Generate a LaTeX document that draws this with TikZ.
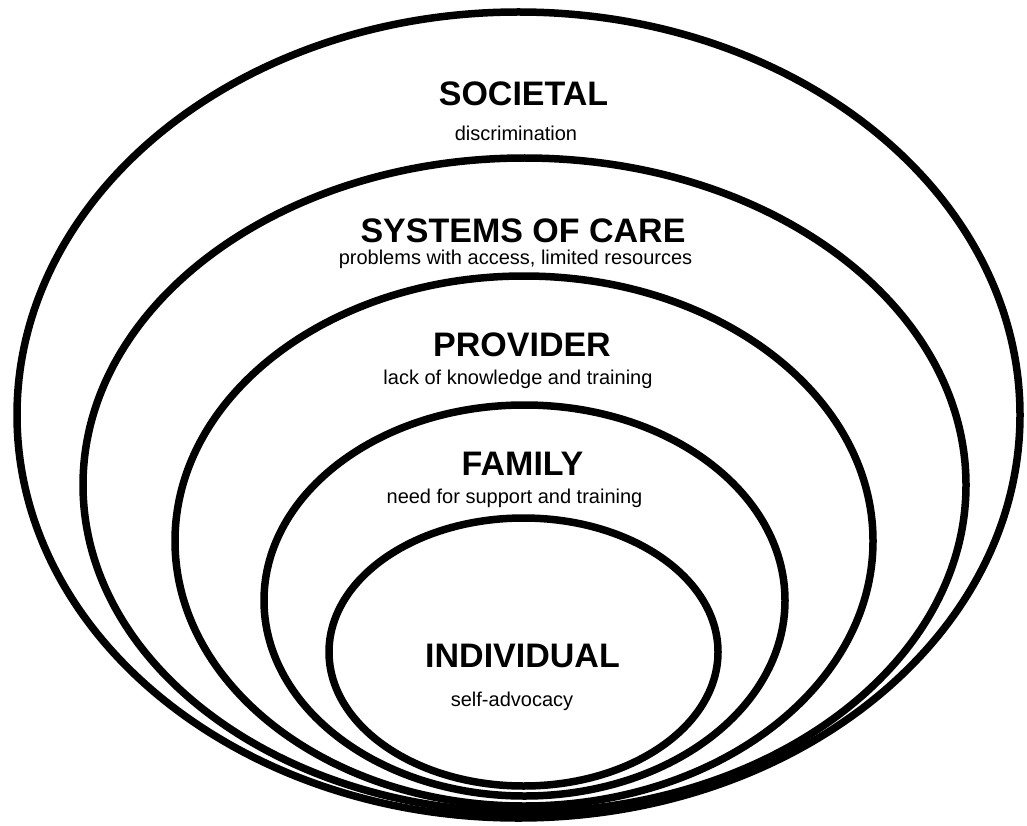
\documentclass[tikz,border=0pt]{standalone}
\usepackage{fontspec}
\setmainfont{Liberation Sans}
\begin{document}
\begin{tikzpicture}[x=1pt,y=-1pt,
  ring/.style={draw=black,line width=7.5pt},
  head/.style={anchor=base,inner sep=0pt,font=\fontsize{34}{40}\selectfont\bfseries},
  note/.style={anchor=base,inner sep=0pt,font=\fontsize{20}{24}\selectfont}]
\useasboundingbox[fill=white] (0,0) rectangle (1027,826);
% nested levels, all meeting near the bottom
\draw[ring] (518.5,415) ellipse [x radius=501.5,y radius=403];
\draw[ring] (524.5,485) ellipse [x radius=441.5,y radius=327];
\draw[ring] (524,541) ellipse [x radius=349,y radius=265];
\draw[ring] (524.5,600.5) ellipse [x radius=260.5,y radius=195.5];
\draw[ring] (523.5,652) ellipse [x radius=194.5,y radius=134];
% labels
\node[head] (soc) at (523.5,106) {SOCIETAL};
\node[note] (socn) at (516,141) {discrimination};
\node[head] (sys) at (523,243) {SYSTEMS OF CARE};
\node[note] (sysn) at (515.5,265) {problems with access, limited resources};
\node[head] (pro) at (522,356) {PROVIDER};
\node[note] (pron) at (518,384) {lack of knowledge and training};
\node[head] (fam) at (522.5,475) {FAMILY};
\node[note] (famn) at (514.5,503) {need for support and training};
\node[head] (ind) at (522.5,667) {INDIVIDUAL};
\node[note] (indn) at (512,706) {self-advocacy};
\end{tikzpicture}
\end{document}
